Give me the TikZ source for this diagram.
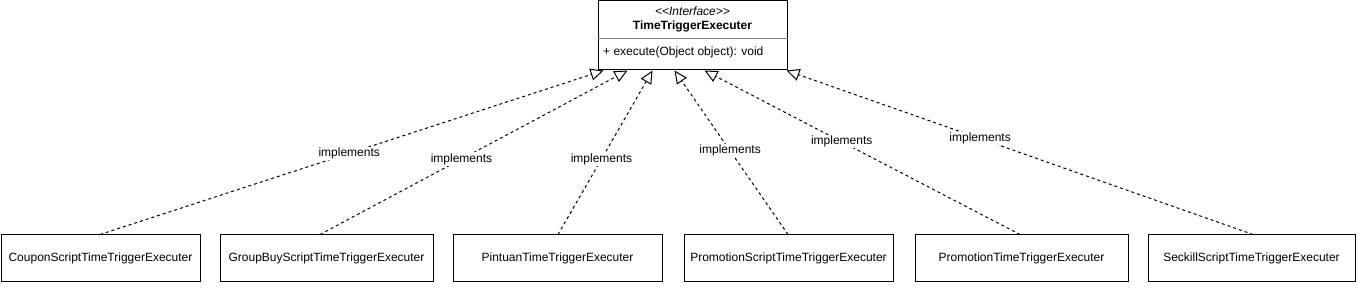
\documentclass[tikz,border=0pt]{standalone}
\usepackage{fontspec}
\setmainfont{Liberation Sans}
\usetikzlibrary{arrows.meta}
\newcommand{\fs}{\fontsize{12}{14}\selectfont}
\begin{document}
\begin{tikzpicture}[x=1pt,y=-1pt,
  cls/.style={draw, line width=1pt, minimum height=47pt, inner sep=0pt, font=\fs},
  impl/.style={line width=1pt, dash pattern=on 3pt off 3pt,
    -{Triangle[open,length=13pt,width=12pt,line width=1pt]}},
  lbl/.style={fill=white, inner sep=1pt, font=\fs},
  txt/.style={inner sep=0pt, font=\fs}]
\useasboundingbox (0,0) rectangle (1358,288);
% interface
\node[draw, line width=1pt, minimum width=189pt, minimum height=69pt, inner sep=0pt] (iface) at (692.5,35.5) {};
\draw[gray, line width=0.8pt] (iface.west |- 0,38) -- (iface.east |- 0,38);
\node[txt, font=\fs\itshape] (st) at (692.5,11.5) {<{}<Interface>{}>};
\node[txt, font=\fs\bfseries] (nm) at (692.5,26.5) {TimeTriggerExecuter};
\node[txt, anchor=west] (op) at (603,52.5) {+ execute(Object object): void};
% implementing classes
\node[cls, minimum width=199pt] (b1) at (100.5,258.5) {CouponScriptTimeTriggerExecuter};
\node[cls, minimum width=213pt] (b2) at (326.5,258.5) {GroupBuyScriptTimeTriggerExecuter};
\node[cls, minimum width=209pt] (b3) at (557.5,258.5) {PintuanTimeTriggerExecuter};
\node[cls, minimum width=209pt] (b4) at (788.5,258.5) {PromotionScriptTimeTriggerExecuter};
\node[cls, minimum width=213pt] (b5) at (1021.5,258.5) {PromotionTimeTriggerExecuter};
\node[cls, minimum width=207pt] (b6) at (1251.5,258.5) {SeckillScriptTimeTriggerExecuter};
% tips on interface
\coordinate (t1) at ([xshift=6pt]iface.south west);
\coordinate (t2) at ([xshift=30pt]iface.south west);
\coordinate (t3) at ([xshift=55pt]iface.south west);
\coordinate (t4) at ([xshift=77pt]iface.south west);
\coordinate (t5) at ([xshift=107pt]iface.south west);
\coordinate (t6) at ([xshift=189pt]iface.south west);
% connectors
\draw[impl] ([xshift=-0.5pt]b1.north) -- node[lbl, pos=0.495] (l1) {implements} (t1);
\draw[impl] ([xshift=-6.5pt]b2.north) -- node[lbl, pos=0.46] (l2) {implements} (t2);
\draw[impl] ([xshift=0.5pt]b3.north) -- node[lbl, pos=0.46] (l3) {implements} (t3);
\draw[impl] ([xshift=-0.5pt]b4.north) -- node[lbl, pos=0.51] (l4) {implements} (t4);
\draw[impl] ([xshift=-1.5pt]b5.north) -- node[lbl, pos=0.565] (l5) {implements} (t5);
\draw[impl] ([xshift=1.5pt]b6.north) -- node[lbl, pos=0.585] (l6) {implements} (t6);
\end{tikzpicture}
\end{document}
